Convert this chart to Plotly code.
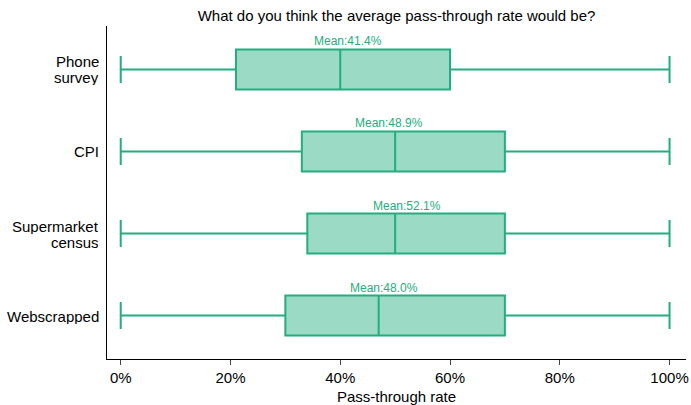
import plotly.graph_objects as go

categories = ["Phone survey", "CPI", "Supermarket census", "Webscrapped"]
label_lines = [["Phone", "survey"], ["CPI"], ["Supermarket", "census"], ["Webscrapped"]]
lower = [0, 0, 0, 0]
q1 = [21, 33, 34, 30]
median = [40, 50, 50, 47]
q3 = [60, 70, 70, 70]
upper = [100, 100, 100, 100]
means = [41.4, 48.9, 52.1, 48.0]
xticks = [0, 20, 40, 60, 80, 100]
xticklabels = [f"{v}%" for v in xticks]

green = "#22ae7e"

fig = go.Figure()
for i, cat in enumerate(categories):
    fig.add_trace(go.Box(
        y=[cat], q1=[q1[i]], median=[median[i]], q3=[q3[i]],
        lowerfence=[lower[i]], upperfence=[upper[i]],
        orientation="h", line=dict(color=green, width=2),
        fillcolor="rgba(34,174,126,0.45)", whiskerwidth=0.67, width=0.49,
        boxpoints=False, hoverinfo="skip"))
    fig.add_annotation(x=means[i], y=cat, text=f"Mean:{means[i]:.1f}%",
                       showarrow=False, yshift=28,
                       font=dict(color=green, size=12))
    # category labels, tighter line spacing than plotly's default
    lines = label_lines[i]
    for j, line in enumerate(lines):
        fig.add_annotation(xref="paper", x=0, y=cat, text=line, showarrow=False,
                           xanchor="right", xshift=-6, height=16,
                           yshift=(len(lines) - 1) * 8 - j * 16)

fig.update_layout(
    width=691, height=405, showlegend=False,
    plot_bgcolor="white", paper_bgcolor="white",
    font=dict(family="Liberation Sans, Arial", size=15, color="black"),
    margin=dict(l=107, r=5, t=26, b=46, autoexpand=False),
    title=dict(text="What do you think the average pass-through rate would be?",
               xref="paper", x=0.5, xanchor="center", y=0.975, yanchor="top",
               font=dict(size=15), automargin=False),
)
fig.update_xaxes(range=[-2.5, 103], tickvals=xticks, ticktext=xticklabels,
                 ticks="outside", ticklen=5, automargin=False,
                 showline=True, linecolor="black", linewidth=1,
                 showgrid=False, zeroline=False,
                 title=dict(text="Pass-through rate", standoff=6, font=dict(size=15)))
fig.update_yaxes(categoryorder="array", categoryarray=categories[::-1],
                 range=[-0.53, 3.53], showticklabels=False,
                 showline=True, linecolor="black", linewidth=1, automargin=False,
                 showgrid=False, zeroline=False, ticks="")

fig.write_html("out.html", config={"displayModeBar": False},
               post_script="document.body.style.margin='0';")
